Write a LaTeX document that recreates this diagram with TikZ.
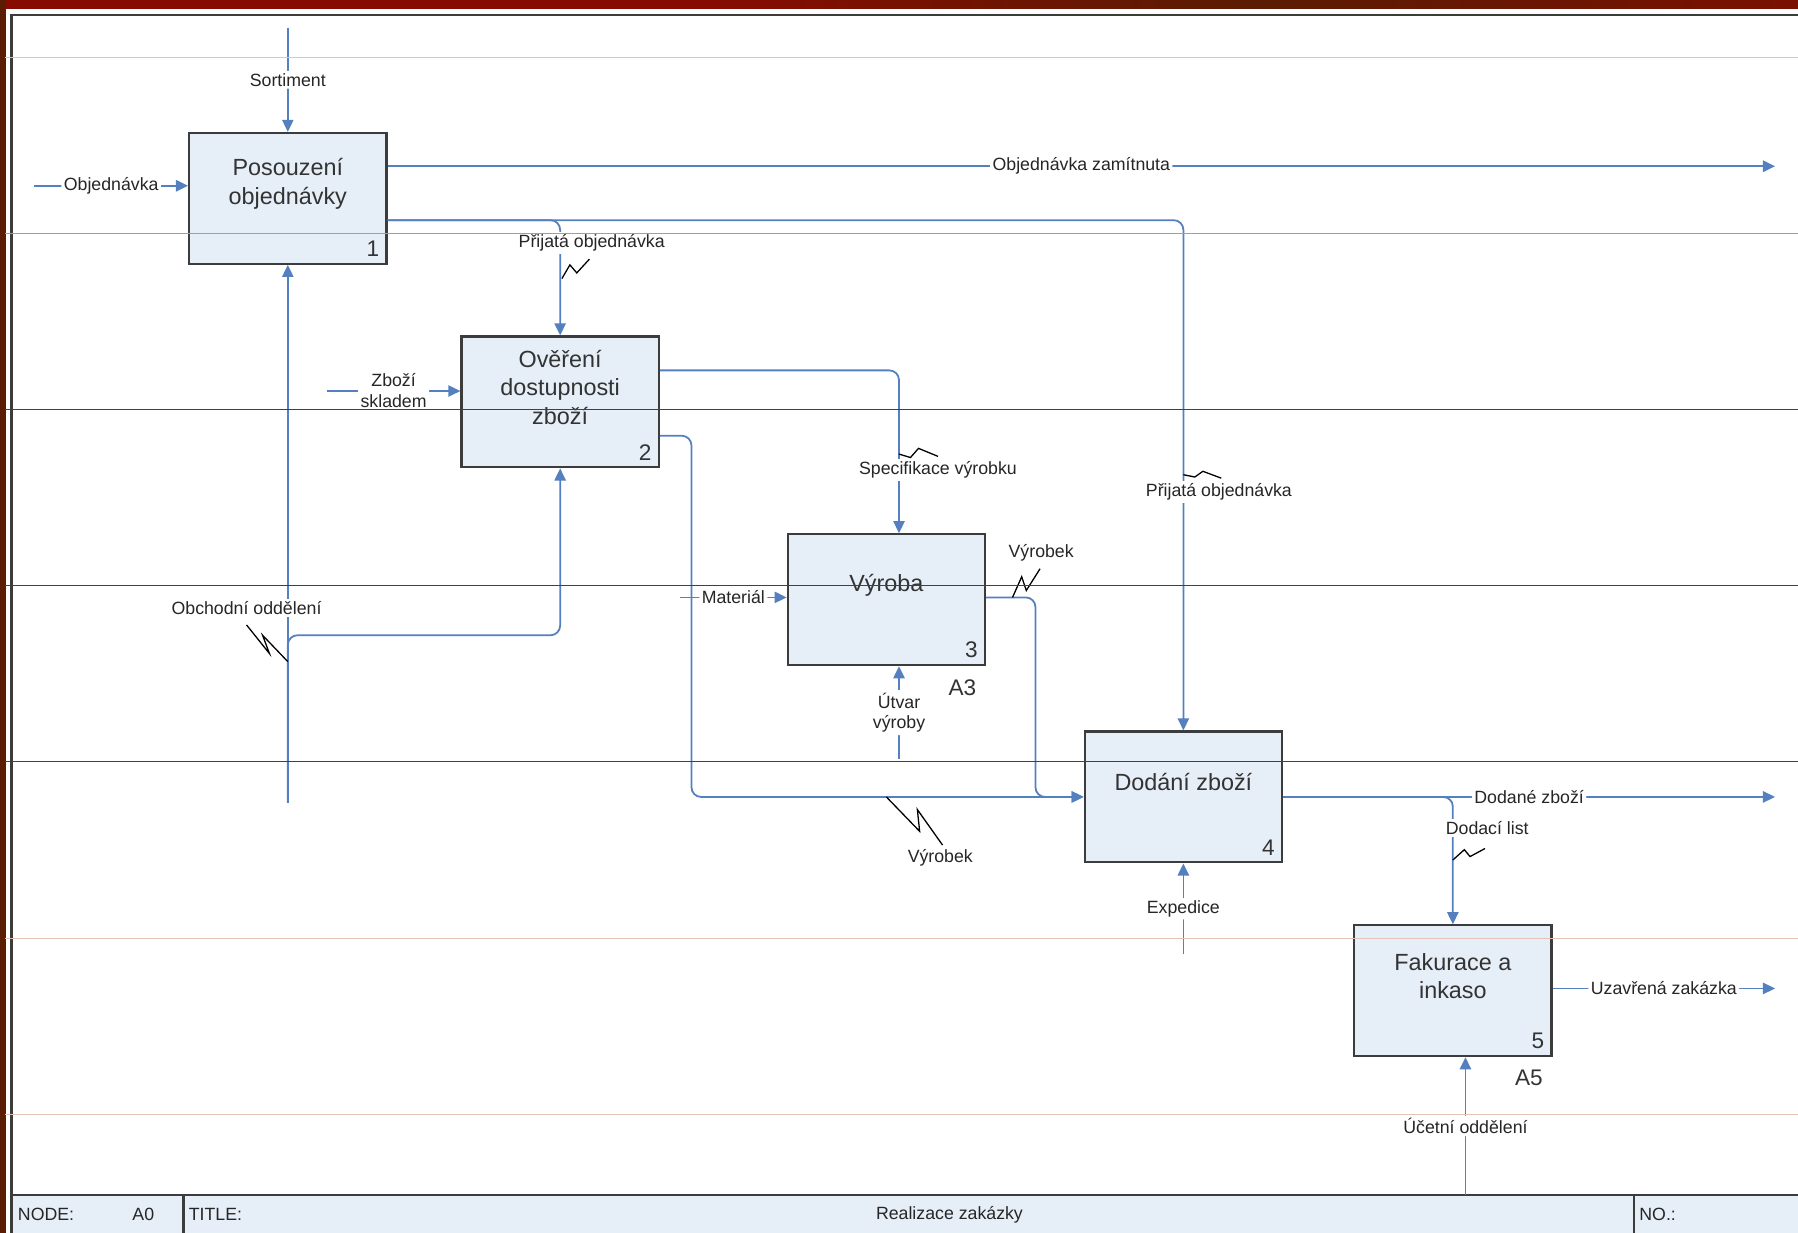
\documentclass[tikz,border=0pt]{standalone}
\usepackage{fontspec}
\setmainfont{Liberation Sans}
\usetikzlibrary{arrows.meta}
\usetikzlibrary{positioning,calc}

\definecolor{flowblue}{HTML}{5580C0}
\definecolor{boxfill}{HTML}{E6EEF7}
\definecolor{boxline}{HTML}{3C3C3C}
\definecolor{bandbrown}{HTML}{5A1C02}
\definecolor{bandred}{HTML}{860C02}
\definecolor{rulelight}{HTML}{E3C2BA}
\definecolor{rulemid}{HTML}{CC8E80}
\definecolor{ruledark}{HTML}{8E2410}
\pgfdeclarehorizontalshading{topband}{100bp}{color(0bp)=(bandbrown); color(20bp)=(bandred); color(45bp)=(bandred); color(60bp)=(bandbrown); color(80bp)=(bandred); color(92bp)=(bandbrown); color(100bp)=(black)}

\begin{document}
\begin{tikzpicture}[x=0.025cm,y=-0.025cm]
\tikzstyle{proc}=[rectangle,draw=boxline,line width=1.4pt,fill=boxfill,
minimum width=4.3cm,minimum height=2.85cm]
\tikzstyle{ptext}=[align=center,yshift=9pt,font=\fontsize{14.5}{17.5}\selectfont,text=black!80]
\tikzstyle{pnum}=[anchor=south east,inner sep=5pt,font=\fontsize{14}{16}\selectfont,text=black!80]
\tikzstyle{pref}=[anchor=north east,inner sep=0pt,xshift=-6pt,yshift=-8pt,font=\fontsize{14}{16}\selectfont,text=black!80]
\tikzstyle{lab}=[fill=white,inner sep=1.5pt,font=\fontsize{11}{13}\selectfont,text=black!85]
\tikzstyle{tlab}=[inner sep=1pt,font=\fontsize{11}{13}\selectfont,text=black!85]
\tikzstyle{squig}=[black,line width=0.8pt]
\tikzstyle{flow}=[-{Triangle[length=7.5pt,width=7pt]},flowblue,line width=1.1pt,rounded corners=6pt]
\tikzstyle{rule}=[line width=0.6pt]

\useasboundingbox (0,0) rectangle (1568,1075);
\clip (0,0) rectangle (1568,1075);

% slide background
\fill[white] (0,0) rectangle (1568,1075);
\shade[shading=topband] (0,0) rectangle (1568,7);
\fill[bandbrown] (0,0) rectangle (5,1075);
\draw[boxline,line width=1.6pt] (10,1100) -- (10,13) -- (1600,13);

% activities
\node[proc,label={[ptext]center:Posouzení\\objednávky},label={[pnum]south east:1}] (posouzeni) at (251,173) {};
\node[proc,label={[ptext]center:Ověření\\dostupnosti\\zboží},label={[pnum]south east:2}] (overeni) at (488.5,350.5) {};
\node[proc,label={[ptext]center:Výroba},label={[pnum]south east:3},label={[pref]south east:A3}] (vyroba) at (773,523) {};
\node[proc,label={[ptext]center:Dodání zboží},label={[pnum]south east:4}] (dodani) at (1032,695) {};
\node[proc,label={[ptext]center:Fakurace a\\inkaso},label={[pnum]south east:5},label={[pref]south east:A5}] (fakturace) at (1267,864) {};

% title block
\draw[boxline,fill=boxfill,line width=1.3pt] (10,1042) rectangle (1600,1100);
\draw[boxline,line width=1.3pt] (160,1042) -- (160,1100) (1425,1042) -- (1425,1100);
\node[tlab,anchor=west] (nodeLab) at (14,1059) {NODE:};
\node[tlab] (nodeVal) at (125,1059) {A0};
\node[tlab,anchor=west] (titleLab) at (163,1059) {TITLE:};
\node[tlab] (titleVal) at (828,1059) {Realizace zakázky};
\node[tlab,anchor=west] (noLab) at (1428,1059) {NO.:};

% arrow ends
\coordinate (sortiment) at (251,24);
\coordinate (objIn) at (30,162);
\coordinate (zamitOut) at (1548,145);
\coordinate (prijata) at ($(posouzeni.east)+(0,19)$);
\coordinate (obchIn) at (251,700);
\coordinate (obchBr) at (251,554);
\coordinate (skladIn) at (285,341);
\coordinate (specif) at ($(overeni.east)+(0,-27.5)$);
\coordinate (specDock) at ($(vyroba.north)+(11,0)$);
\coordinate (vyrobek2) at ($(overeni.east)+(0,29.5)$);
\coordinate (vyrDown2) at (603,695);
\coordinate (matIn) at (593,521);
\coordinate (vyrobek3) at ($(vyroba.east)+(0,-2)$);
\coordinate (vyrDown3) at (903,695);
\coordinate (utvarIn) at (784,662);
\coordinate (dodOut) at (1548,695);
\coordinate (expIn) at (1032,832);
\coordinate (uzavOut) at (1548,862);
\coordinate (uctIn) at (1278,1042);

\draw[flow] (sortiment) -- node[lab]{Sortiment} (posouzeni.north);
\draw[flow] (objIn) -- node[lab]{Objednávka} (objIn -| posouzeni.west);
\draw[flow] (zamitOut -| posouzeni.east) -- node[lab]{Objednávka zamítnuta} (zamitOut);
\draw[flow] (prijata) -| (overeni.north);
\draw[flow] (prijata) -| (dodani.north);
\draw[flow] (obchIn) -- (posouzeni.south);
\draw[flow] (obchIn) -- (obchBr) -| (overeni.south);
\draw[flow] (skladIn) -- node[lab,align=center]{Zboží\\skladem} (skladIn -| overeni.west);
\draw[flow] (specif) -| (specDock);
\draw[flow] (vyrobek2) -| (vyrDown2) -- (dodani.west);
\draw[flow] (matIn) -- node[lab]{Materiál} (matIn -| vyroba.west);
\draw[flow] (vyrobek3) -| (vyrDown3) -- (dodani.west);
\draw[flow] (utvarIn) -- node[lab,align=center]{Útvar\\výroby} (utvarIn |- vyroba.south);
\draw[flow] (dodani.east) -- node[lab]{Dodané zboží} (dodOut);
\draw[flow] (dodani.east) -| (fakturace.north);
\draw[flow] (expIn) -- node[lab]{Expedice} (dodani.south);
\draw[flow] (uzavOut -| fakturace.east) -- node[lab]{Uzavřená zakázka} (uzavOut);
\draw[flow] (uctIn) -- node[lab]{Účetní oddělení} (uctIn |- fakturace.south);

% labels off the arrows
\node[lab] (prijLabA) at (516,212) {Přijatá objednávka};
\node[lab] (prijLabB) at (1063,429) {Přijatá objednávka};
\node[lab] (specLab) at (818,410) {Specifikace výrobku};
\node[lab] (vyrLabA) at (820,748) {Výrobek};
\node[lab] (vyrLabB) at (908,482) {Výrobek};
\node[lab] (obchLab) at (215,530) {Obchodní oddělení};
\node[lab] (dodlLab) at (1297,722) {Dodací list};

% squiggles
\coordinate (sqPrijA) at (490,243);
\coordinate (sqPrijB) at (1032,414);
\coordinate (sqSpec) at (784,396);
\coordinate (sqObch) at (251,577);
\coordinate (sqVyrA) at (773,695);
\coordinate (sqVyrB) at (883,521);
\coordinate (sqDodl) at (1267,750);
\draw[squig] (sqPrijA) -- ++(7,-12) -- ++(6,7) -- ++(11,-12);
\draw[squig] (sqPrijB) -- ++(10,2) -- ++(7,-5) -- ++(16,6);
\draw[squig] (sqSpec) -- ++(10,3) -- ++(7,-8) -- ++(17,7);
\draw[squig] (sqObch) -- ++(-22,-23) -- ++(6,16) -- ++(-20,-25);
\draw[squig] (sqVyrA) -- ++(29,30) -- ++(-2,-19) -- ++(22,31);
\draw[squig] (sqVyrB) -- ++(8,-18) -- ++(4,12) -- ++(12,-19);
\draw[squig] (sqDodl) -- ++(10,-9) -- ++(5,6) -- ++(13,-7);

% slide rules over everything
\foreach \y/\c in {50/rulelight,204/rulemid,357/ruledark,511/ruledark,664/ruledark,818/rulelight,972/rulelight}
  \draw[rule,\c] (4,\y) -- (1568,\y);

\end{tikzpicture}
\end{document}
